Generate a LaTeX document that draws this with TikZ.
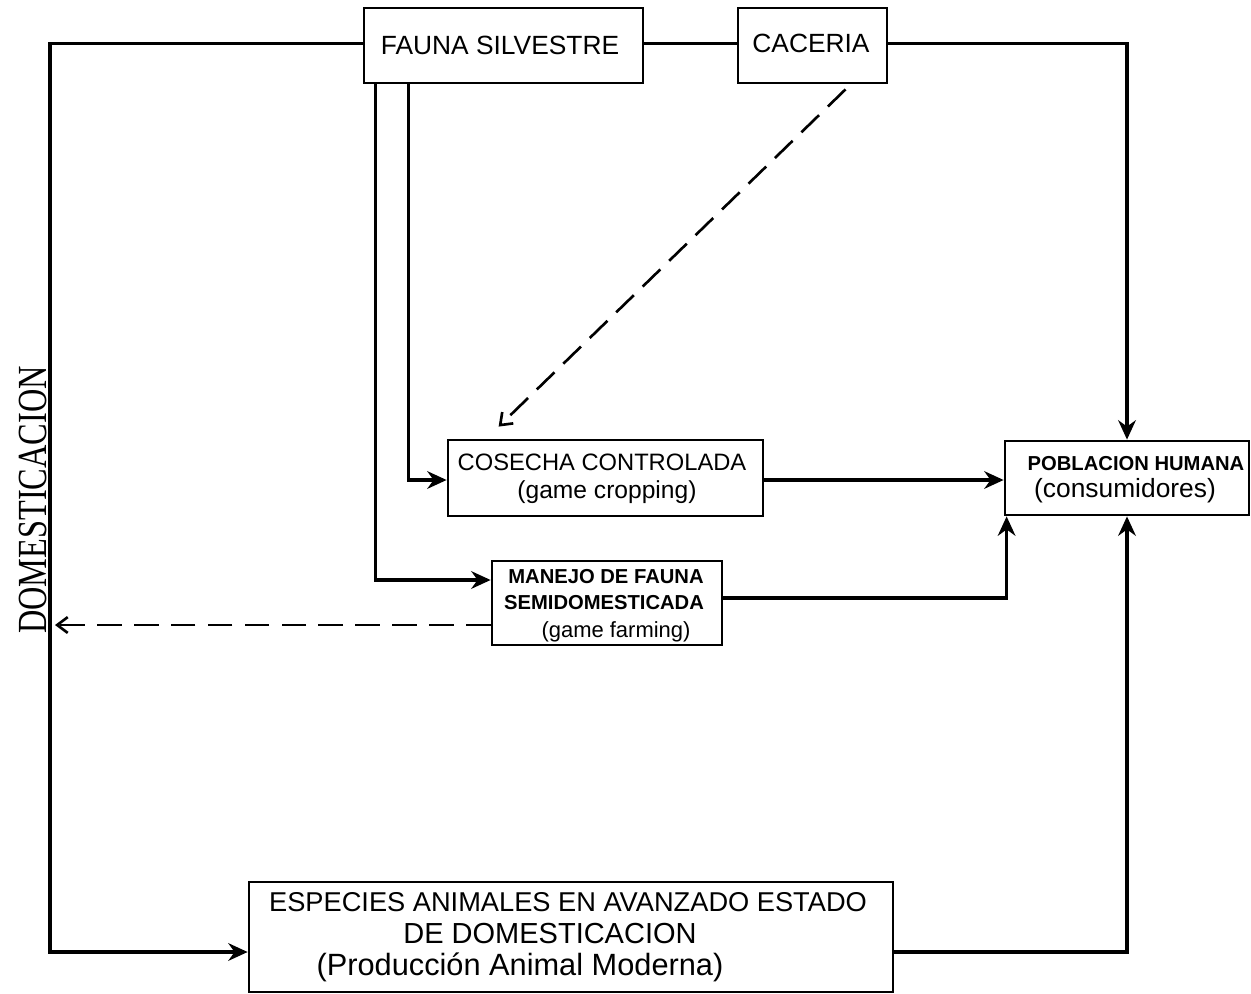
\documentclass[tikz,border=0pt]{standalone}
\usepackage{fontspec}
\setmainfont{Liberation Sans}
\newfontfamily\serifdom{Liberation Serif}
\usetikzlibrary{arrows.meta,calc}
\tikzset{
  box/.style={draw, line width=1.6pt, rectangle, inner sep=0pt},
  txt/.style={inner sep=0pt, anchor=center},
  conn/.style={line width=2.1pt},
  arr/.style={conn, -{Stealth[length=11pt,width=10pt]}},
  darr/.style={line width=1.5pt, dash pattern=on 14pt off 7pt, -{Straight Barb[length=6pt,width=9pt,line width=1.5pt]}},
}
\begin{document}
\begin{tikzpicture}[x=0.02cm,y=-0.02cm]
\useasboundingbox (0,0) rectangle (1251,994);
% boxes
\node[box, minimum width=5.58cm, minimum height=1.5cm] (fauna) at (503.5,45.5) {};
\node[txt, font=\fontsize{15}{18}\selectfont] (faunat) at (500,45) {FAUNA SILVESTRE};
\node[box, minimum width=2.98cm, minimum height=1.5cm] (caceria) at (812.5,45.5) {};
\node[txt, font=\fontsize{15}{18}\selectfont] (cacet) at (811,43) {CACERIA};
\node[box, minimum width=6.3cm, minimum height=1.52cm] (cosecha) at (605.5,478) {};
\node[txt, font=\fontsize{13.5}{16}\selectfont] (cos1) at (602,462) {COSECHA CONTROLADA};
\node[txt, font=\fontsize{14}{16}\selectfont] (cos2) at (607,492) {(game cropping)};
\node[box, minimum width=4.6cm, minimum height=1.68cm] (manejo) at (607,603) {};
\node[txt, font=\bfseries\fontsize{11.5}{14}\selectfont] (man1) at (606,577) {MANEJO DE FAUNA};
\node[txt, font=\bfseries\fontsize{11.5}{14}\selectfont] (man2) at (604,603) {SEMIDOMESTICADA};
\node[txt, font=\fontsize{12.5}{14}\selectfont] (man3) at (616,632) {(game farming)};
\node[box, minimum width=4.88cm, minimum height=1.48cm] (pobl) at (1127,478) {};
\node[txt, font=\bfseries\fontsize{11.5}{14}\selectfont] (pob1) at (1136,464) {POBLACION HUMANA};
\node[txt, font=\fontsize{15}{17}\selectfont] (pob2) at (1125,491) {(consumidores)};
\node[box, minimum width=12.88cm, minimum height=2.2cm] (especies) at (571,937) {};
\node[txt, font=\fontsize{15.5}{18}\selectfont] (esp1) at (568,902) {ESPECIES ANIMALES EN AVANZADO ESTADO};
\node[txt, font=\fontsize{16.5}{18}\selectfont] (esp2) at (550,934) {DE DOMESTICACION};
\node[txt, font=\fontsize{17.5}{19}\selectfont] (esp3) at (520,967) {(Producción Animal Moderna)};
\node[txt, rotate=90] (dom) at (33,500) {\scalebox{1}[1.28]{\serifdom\fontsize{18.4}{20}\selectfont DOMESTICACION}};
% coordinates
\coordinate (cacstart) at ($(caceria.south)+(33,5)$);
\coordinate (cosend) at ($(cosecha.north west)+(52,-12)$);
\coordinate (domhit) at (55,625);
% connectors
\draw[arr] ($(fauna.west)+(0,-2)$) -- (50,43.5) |- ($(especies.west)+(0,15)$);
\draw[conn] ($(fauna.east)+(0,-2)$) -- ($(caceria.west)+(0,-2)$);
\draw[arr] ($(caceria.east)+(0,-2)$) -| (pobl.north);
\draw[arr] ($(fauna.south west)+(13,0)$) |- ($(manejo.west)+(0,-23)$);
\draw[arr] ($(fauna.south west)+(46,0)$) |- ($(cosecha.west)+(0,2)$);
\draw[arr] ($(cosecha.east)+(0,2)$) -- ($(pobl.west)+(0,2)$);
\draw[arr] ($(manejo.east)+(0,-5)$) -| ($(pobl.south west)+(3,0)$);
\draw[arr] ($(especies.east)+(0,15)$) -| (pobl.south);
\draw[darr] (cacstart) -- (cosend);
\draw[darr] ($(manejo.west)+(0,22)$) -- (domhit);
\end{tikzpicture}
\end{document}
